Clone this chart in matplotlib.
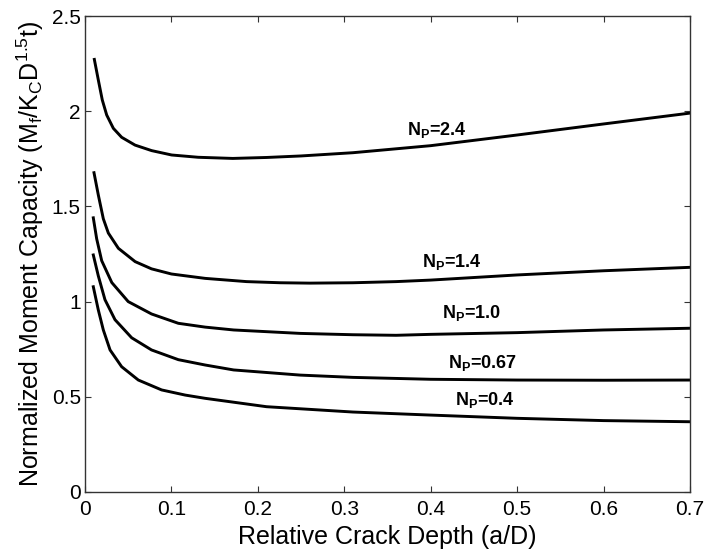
import matplotlib
matplotlib.use("Agg")
import matplotlib.pyplot as plt

plt.rcParams['font.family'] = ['Liberation Sans', 'DejaVu Sans']
plt.rcParams['mathtext.fontset'] = 'custom'
plt.rcParams['mathtext.rm'] = 'Liberation Sans'
plt.rcParams['mathtext.it'] = 'Liberation Sans:italic'
plt.rcParams['mathtext.bf'] = 'Liberation Sans:bold'

# moment capacity vs relative crack depth, one curve per N_P
x_24 = [0.0108, 0.0154, 0.02, 0.0251, 0.0328, 0.0424, 0.0579, 0.0771, 0.1003, 0.131, 0.171, 0.21, 0.25, 0.31, 0.4, 0.5, 0.6, 0.7]
y_24 = [2.272, 2.164, 2.059, 1.98, 1.91, 1.863, 1.822, 1.793, 1.77, 1.758, 1.752, 1.757, 1.765, 1.782, 1.819, 1.875, 1.933, 1.99]

x_14 = [0.0104, 0.0154, 0.0212, 0.027, 0.0386, 0.058, 0.077, 0.10, 0.139, 0.187, 0.226, 0.26, 0.31, 0.36, 0.4, 0.5, 0.6, 0.7]
y_14 = [1.677, 1.56, 1.435, 1.36, 1.28, 1.21, 1.172, 1.145, 1.122, 1.105, 1.099, 1.097, 1.099, 1.105, 1.113, 1.14, 1.162, 1.18]

x_10 = [0.0096, 0.0135, 0.0193, 0.031, 0.05, 0.077, 0.108, 0.139, 0.172, 0.249, 0.31, 0.36, 0.4, 0.5, 0.6, 0.7]
y_10 = [1.44, 1.33, 1.215, 1.10, 1.0, 0.935, 0.886, 0.866, 0.851, 0.833, 0.826, 0.823, 0.828, 0.837, 0.851, 0.86]

x_067 = [0.0096, 0.0154, 0.0231, 0.0347, 0.054, 0.077, 0.108, 0.139, 0.172, 0.249, 0.31, 0.4, 0.5, 0.6, 0.7]
y_067 = [1.245, 1.135, 1.01, 0.905, 0.81, 0.746, 0.695, 0.667, 0.641, 0.614, 0.602, 0.592, 0.588, 0.587, 0.588]

x_04 = [0.0096, 0.0154, 0.0212, 0.029, 0.0424, 0.0617, 0.0887, 0.116, 0.139, 0.21, 0.31, 0.4, 0.5, 0.6, 0.7]
y_04 = [1.078, 0.956, 0.851, 0.746, 0.658, 0.588, 0.536, 0.509, 0.492, 0.448, 0.42, 0.404, 0.387, 0.375, 0.369]

curves = [(x_24, y_24), (x_14, y_14), (x_10, y_10), (x_067, y_067), (x_04, y_04)]
np_values = ['2.4', '1.4', '1.0', '0.67', '0.4']
label_pos = [(0.373, 1.90), (0.39, 1.21), (0.413, 0.94), (0.42, 0.676), (0.428, 0.483)]

xticks = [0, 0.1, 0.2, 0.3, 0.4, 0.5, 0.6, 0.7]
xticklabels = ['0', '0.1', '0.2', '0.3', '0.4', '0.5', '0.6', '0.7']
yticks = [0, 0.5, 1.0, 1.5, 2.0, 2.5]
yticklabels = ['0', '0.5', '1', '1.5', '2', '2.5']

fig = plt.figure(figsize=(7.06, 5.52), dpi=100)
ax = fig.add_axes([0.1204, 0.1087, 0.8569, 0.8623])

for xs, ys in curves:
    ax.plot(xs, ys, color='black', linewidth=2.1, solid_joinstyle='round')

for val, (tx, ty) in zip(np_values, label_pos):
    ax.text(tx, ty, r'$\mathbf{N_P}$=' + val, fontsize=13, fontweight='bold',
            ha='left', va='center')

ax.set_xlim(0, 0.7)
ax.set_ylim(0, 2.5)
ax.set_xticks(xticks)
ax.set_xticklabels(xticklabels)
ax.set_yticks(yticks)
ax.set_yticklabels(yticklabels)
ax.tick_params(direction='in', length=4, width=0.8, top=True, right=True,
               labelsize=15, color='#333333')
ax.tick_params(axis='x', pad=6)
ax.tick_params(axis='y', pad=3)
for s in ax.spines.values():
    s.set_color('#333333')
    s.set_linewidth(1.0)

ax.set_xlabel('Relative Crack Depth (a/D)', fontsize=18)
ax.set_ylabel(r'Normalized Moment Capacity (M$_\mathregular{f}$/K$_\mathregular{C}$D$^\mathregular{1.5}$t)',
              fontsize=18)
ax.xaxis.set_label_coords(0.5, -0.07)
ax.yaxis.set_label_coords(-0.064, 0.5)

fig.savefig('out.png', dpi=100)
